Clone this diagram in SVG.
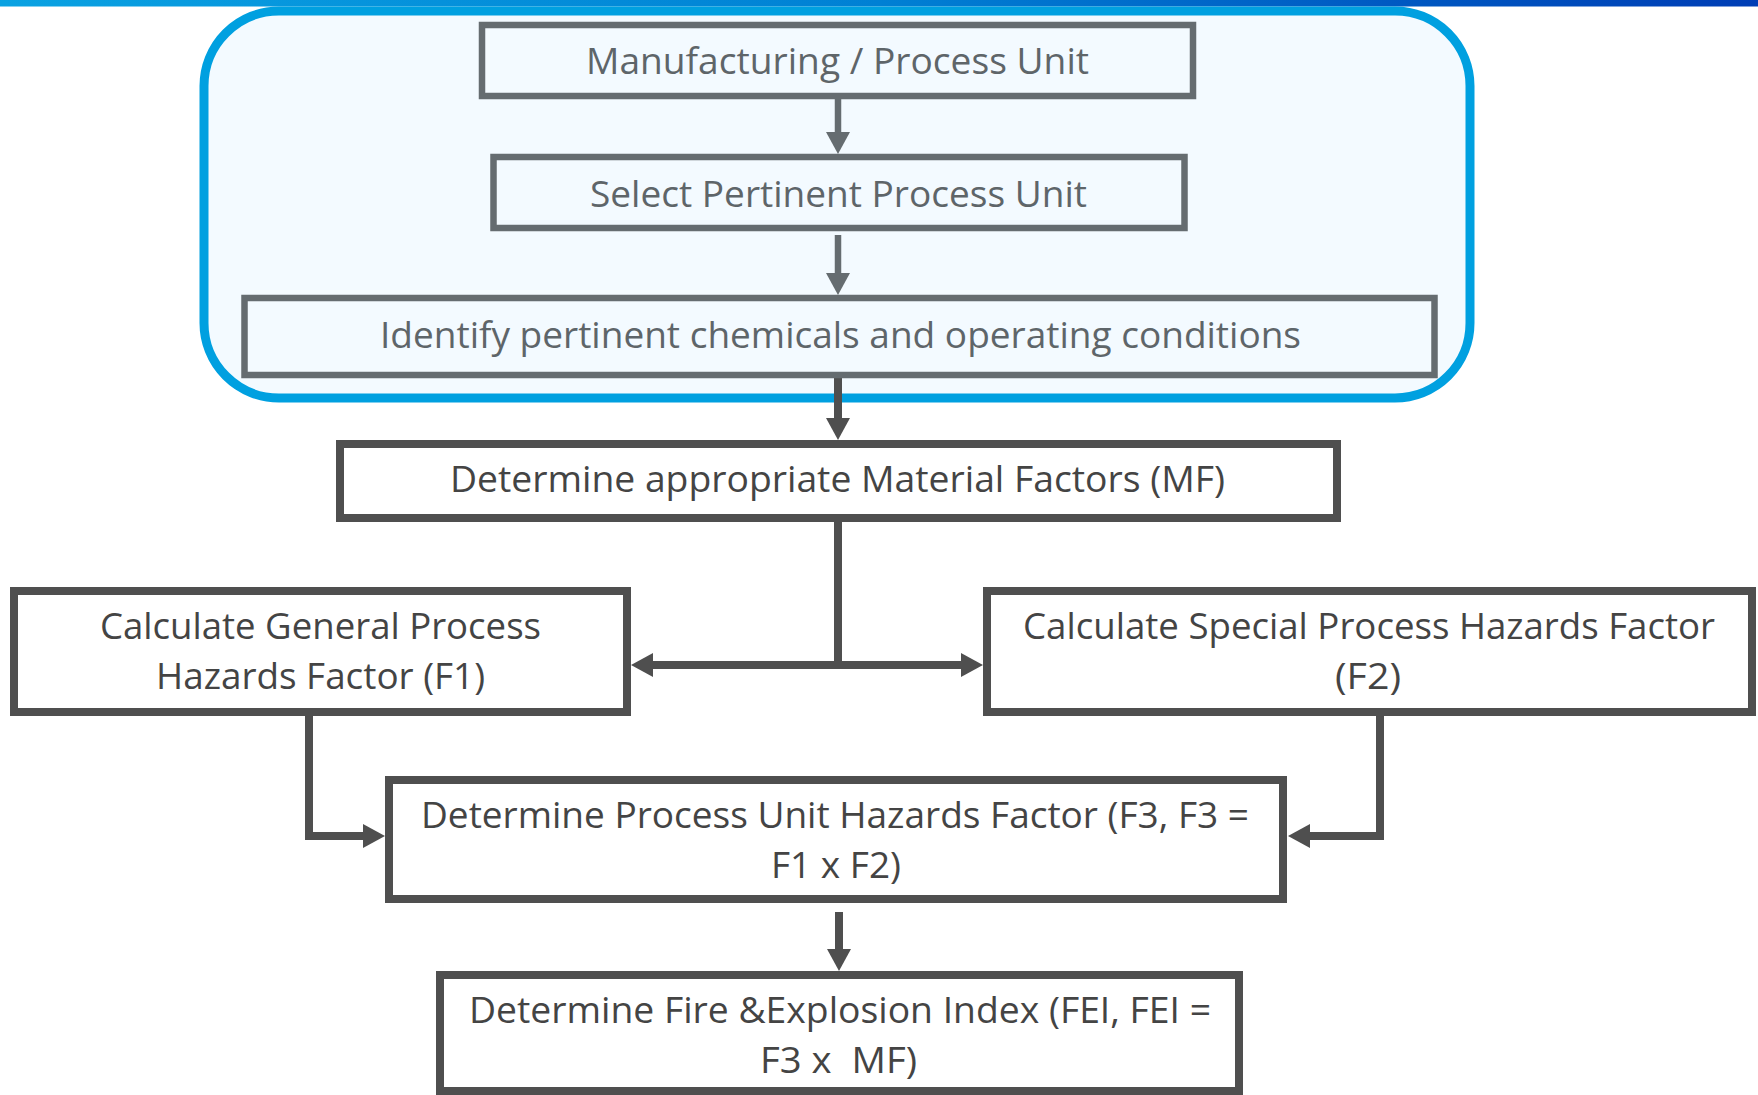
<svg xmlns="http://www.w3.org/2000/svg" width="1758" height="1095" viewBox="0 0 1758 1095">
  <style>
    .lbl { font-family: "Open Sans", "Noto Sans", "Liberation Sans", sans-serif; font-size: 36px; }
    .in-lbl { fill: #5e6569; }
    .out-lbl { fill: #444444; }
    .in-box { fill: #f3faff; stroke: #656c70; stroke-width: 6.5; }
    .out-box { fill: #ffffff; stroke: #4f4f4f; stroke-width: 8; }
    .in-wire { fill: none; stroke: #656c70; stroke-width: 6.5; }
    .out-wire { fill: none; stroke: #4f4f4f; stroke-width: 8; }
  </style>
  <defs>
    <linearGradient id="topBand" x1="0" y1="0" x2="1" y2="0">
      <stop offset="0" stop-color="#0aa2e2"/>
      <stop offset="0.5" stop-color="#0080d4"/>
      <stop offset="1" stop-color="#003db5"/>
    </linearGradient>
    <marker id="headGray" markerUnits="userSpaceOnUse" markerWidth="22" markerHeight="24" refX="0" refY="12" orient="auto" overflow="visible">
      <path d="M0,0 L22,12 L0,24 Z" fill="#656c70"/>
    </marker>
    <marker id="headDark" markerUnits="userSpaceOnUse" markerWidth="22" markerHeight="24" refX="0" refY="12" orient="auto" overflow="visible">
      <path d="M0,0 L22,12 L0,24 Z" fill="#4f4f4f"/>
    </marker>
  </defs>

  <rect width="1758" height="1095" fill="#ffffff"/>
  <!-- header band -->
  <rect x="0" y="0" width="1758" height="6.5" fill="url(#topBand)"/>

  <!-- rounded grouping frame around the first three steps -->
  <g id="scope-frame">
    <rect x="204" y="11" width="1266" height="387" rx="75" ry="75" fill="#f3faff" stroke="#00a0e0" stroke-width="9"/>
  </g>

  <!-- connectors -->
  <g id="connectors">
    <path class="in-wire" d="M838,99 V132" marker-end="url(#headGray)"/>
    <path class="in-wire" d="M838,235 V273" marker-end="url(#headGray)"/>
    <path class="out-wire" d="M838,378 V418" marker-end="url(#headDark)"/>
    <path class="out-wire" d="M838,522 V665"/>
    <path class="out-wire" d="M842,665 H653" marker-end="url(#headDark)"/>
    <path class="out-wire" d="M834,665 H961" marker-end="url(#headDark)"/>
    <path class="out-wire" d="M309,716 V836 H363" marker-end="url(#headDark)"/>
    <path class="out-wire" d="M1380,716 V836 H1310" marker-end="url(#headDark)"/>
    <path class="out-wire" d="M839,912 V949" marker-end="url(#headDark)"/>
  </g>

  <g id="node-manufacturing-unit">
    <rect class="in-box" x="482" y="25" width="711" height="71"/>
    <text class="lbl in-lbl" x="586" y="74" textLength="503" lengthAdjust="spacingAndGlyphs">Manufacturing / Process Unit</text>
  </g>

  <g id="node-select-unit">
    <rect class="in-box" x="493.5" y="157" width="691" height="71"/>
    <text class="lbl in-lbl" x="590" y="207" textLength="497" lengthAdjust="spacingAndGlyphs">Select Pertinent Process Unit</text>
  </g>

  <g id="node-identify-chemicals">
    <rect class="in-box" x="244.5" y="298" width="1190" height="77"/>
    <text class="lbl in-lbl" x="380" y="348" textLength="921" lengthAdjust="spacingAndGlyphs">Identify pertinent chemicals and operating conditions</text>
  </g>

  <g id="node-material-factor">
    <rect class="out-box" x="340" y="444" width="997" height="74"/>
    <text class="lbl out-lbl" x="450" y="492" textLength="775" lengthAdjust="spacingAndGlyphs">Determine appropriate Material Factors (MF)</text>
  </g>

  <g id="node-general-hazards">
    <rect class="out-box" x="14" y="591" width="613" height="121"/>
    <text class="lbl out-lbl" x="100" y="639" textLength="441" lengthAdjust="spacingAndGlyphs">Calculate General Process</text>
    <text class="lbl out-lbl" x="156" y="689" textLength="329" lengthAdjust="spacingAndGlyphs">Hazards Factor (F1)</text>
  </g>

  <g id="node-special-hazards">
    <rect class="out-box" x="987" y="591" width="765" height="121"/>
    <text class="lbl out-lbl" x="1023" y="639" textLength="692" lengthAdjust="spacingAndGlyphs">Calculate Special Process Hazards Factor</text>
    <text class="lbl out-lbl" x="1335" y="689" textLength="66" lengthAdjust="spacingAndGlyphs">(F2)</text>
  </g>

  <g id="node-unit-hazards">
    <rect class="out-box" x="389" y="780" width="894" height="119"/>
    <text class="lbl out-lbl" x="421" y="828" textLength="828" lengthAdjust="spacingAndGlyphs">Determine Process Unit Hazards Factor (F3, F3 =</text>
    <text class="lbl out-lbl" x="771" y="878" textLength="130" lengthAdjust="spacingAndGlyphs">F1 x F2)</text>
  </g>

  <g id="node-fire-explosion-index">
    <rect class="out-box" x="440" y="975" width="799" height="116"/>
    <text class="lbl out-lbl" x="469" y="1023" textLength="742" lengthAdjust="spacingAndGlyphs">Determine Fire &amp;Explosion Index (FEI, FEI =</text>
    <text class="lbl out-lbl" x="760" y="1073" textLength="157" lengthAdjust="spacingAndGlyphs" xml:space="preserve">F3 x  MF)</text>
  </g>
</svg>
